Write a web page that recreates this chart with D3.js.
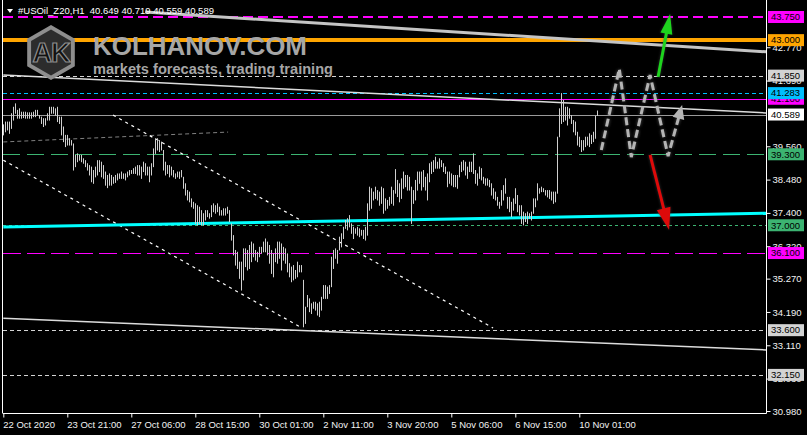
<!DOCTYPE html>
<html>
<head>
<meta charset="utf-8">
<script src="https://cdn.jsdelivr.net/npm/d3@7"></script>
<style>
  html, body { margin: 0; padding: 0; background: #000; }
  svg { display: block; }
  text { font-family: "Liberation Sans", Arial, sans-serif; }
</style>
</head>
<body>
<svg id="chart" width="807" height="435"></svg>
<script>
// ---- H1 bar ranges (high / low), one entry per hourly bar ----
const barHigh = [
  40.27, 40.36, 40.36, 40.36, 40.63, 40.84, 40.95, 40.74, 40.79, 40.68,
  40.68, 40.68, 40.66, 40.66, 40.66, 40.68, 40.74, 40.74, 40.57, 40.52,
  40.47, 40.47, 40.63, 40.84, 40.84, 40.84, 40.79, 40.84, 40.52, 40.52,
  40.20, 39.93, 39.93, 39.82, 39.76, 39.65, 39.28, 39.33, 39.28, 39.28,
  39.17, 39.11, 39.01, 38.95, 38.90, 38.79, 38.90, 39.11, 39.11, 39.06,
  38.95, 38.74, 38.63, 38.68, 38.63, 38.57, 38.63, 38.68, 38.68, 38.74,
  38.68, 38.68, 38.74, 38.79, 38.79, 38.85, 38.90, 38.95, 38.95, 38.90,
  39.06, 39.01, 38.90, 38.90, 39.01, 39.49, 39.82, 39.82, 39.76, 39.71,
  39.44, 39.06, 38.95, 38.95, 38.90, 38.79, 38.68, 38.74, 38.74, 38.79,
  38.57, 38.36, 38.14, 38.09, 37.87, 37.76,
  37.71, 37.65, 37.60, 37.49, 37.39, 37.49, 37.49, 37.39, 37.65, 37.71,
  37.65, 37.71, 37.60, 37.49, 37.55, 37.55, 37.60, 37.49, 37.06, 36.68,
  36.20, 36.14, 35.82, 35.82, 36.25, 36.25, 36.20, 36.36, 36.47, 36.41,
  36.20, 36.14, 36.30, 36.30, 36.47, 36.57, 36.47, 36.36, 36.20, 36.09,
  36.25, 36.47, 36.47, 36.41, 36.30, 36.25, 36.09, 35.77, 35.66, 35.71,
  35.55, 35.82, 35.71, 35.71, 35.23, 34.36, 34.74, 34.63, 34.47, 34.52,
  34.52, 34.47, 34.52, 34.68, 35.06, 35.06, 35.01, 35.06, 35.98, 36.20,
  36.25, 36.20, 36.63, 36.74, 36.95, 37.17, 37.23, 37.33, 37.06, 36.95,
  36.90, 36.95, 36.90, 36.85, 36.85, 36.95, 37.71, 38.25, 38.20, 38.09,
  38.25, 38.14, 38.09, 38.25, 38.20, 37.87, 37.82, 37.92, 38.25, 38.14,
  38.82, 38.47, 38.36, 38.52, 38.74, 38.63, 38.63, 38.57, 38.25, 38.14,
  38.47, 38.74, 38.74, 38.74, 38.79, 38.57, 38.68, 39.01, 39.06, 39.11,
  39.22, 39.06, 39.17, 39.11, 39.01, 38.90, 38.74, 38.74, 38.68, 38.63,
  38.63, 38.63, 38.95, 39.06, 39.11, 39.06, 38.90, 39.06, 39.06, 39.33,
  38.79, 38.68, 38.90, 38.85, 38.57, 38.52, 38.52, 38.47, 38.36, 38.20,
  38.09, 37.92, 37.76, 38.14, 38.30, 38.52, 37.92, 37.92, 37.76, 37.87,
  38.20, 37.98, 37.65, 37.65, 37.44, 37.39, 37.44, 37.39, 37.44, 37.87,
  37.87, 38.36, 38.20, 38.25, 38.20, 38.14, 38.14, 38.14, 38.09, 38.09,
  38.09, 39.87, 40.79, 41.283, 41.06, 40.84, 40.84, 40.79, 40.57, 40.41,
  40.36, 40.03, 39.87, 39.76, 39.76, 39.87, 39.87, 39.98, 39.93, 40.03,
  40.55, 40.719
];
const barLow = [
  39.93, 40.03, 40.09, 39.98, 40.14, 40.41, 40.63, 40.47, 40.47, 40.47,
  40.49, 40.47, 40.47, 40.47, 40.47, 40.52, 40.52, 40.57, 40.47, 40.30,
  40.20, 40.25, 40.41, 40.41, 40.63, 40.63, 40.57, 40.36, 40.30, 39.93,
  39.71, 39.55, 39.60, 39.60, 39.60, 38.79, 38.90, 39.06, 39.11, 39.06,
  39.01, 38.90, 38.79, 38.63, 38.41, 38.36, 38.57, 38.63, 38.74, 38.57,
  38.52, 38.30, 38.22, 38.30, 38.30, 38.36, 38.39, 38.47, 38.52, 38.52,
  38.52, 38.47, 38.57, 38.63, 38.68, 38.68, 38.68, 38.63, 38.63, 38.52,
  38.74, 38.63, 38.63, 38.41, 38.63, 38.90, 39.33, 39.44, 39.39, 39.44,
  38.79, 38.63, 38.68, 38.57, 38.63, 38.57, 38.52, 38.57, 38.52, 38.57,
  38.20, 37.98, 37.82, 37.76, 37.60, 37.55,
  37.06, 37.01, 37.06, 37.01, 37.01, 37.17, 37.28, 37.23, 37.28, 37.44,
  37.39, 37.44, 37.33, 37.33, 37.33, 37.33, 37.39, 37.12, 36.52, 36.04,
  35.71, 35.60, 35.28, 34.90, 35.23, 35.66, 35.55, 35.60, 35.82, 35.98,
  35.87, 35.82, 35.98, 36.09, 36.14, 36.14, 36.04, 35.77, 35.44, 35.33,
  35.82, 35.77, 35.93, 35.55, 35.87, 35.77, 35.49, 35.33, 35.17, 35.23,
  35.28, 35.33, 35.49, 35.49, 33.71, 33.82, 34.36, 34.20, 34.14, 34.31,
  34.25, 34.09, 34.04, 34.25, 34.63, 34.63, 34.63, 34.79, 35.01, 35.60,
  35.93, 35.77, 36.20, 36.30, 36.57, 36.90, 36.85, 36.95, 36.74, 36.57,
  36.74, 36.68, 36.63, 36.68, 36.57, 36.52, 36.68, 37.49, 37.55, 37.82,
  37.87, 37.82, 37.65, 37.71, 37.39, 37.49, 37.55, 37.65, 37.71, 37.65,
  38.04, 37.93, 37.76, 37.87, 38.20, 38.25, 38.14, 38.14, 37.06, 37.71,
  37.82, 38.14, 38.36, 38.14, 38.25, 38.14, 37.82, 38.41, 38.68, 38.74,
  38.85, 38.85, 38.85, 38.90, 38.74, 38.68, 38.25, 38.36, 38.30, 38.25,
  38.25, 38.20, 38.57, 38.74, 38.79, 38.63, 38.52, 38.74, 38.74, 38.68,
  38.36, 38.30, 38.52, 38.47, 38.36, 38.30, 38.30, 38.25, 37.98, 37.87,
  37.82, 37.65, 37.55, 37.65, 37.82, 38.04, 37.55, 37.44, 37.28, 37.49,
  37.71, 37.44, 37.33, 37.06, 37.01, 37.12, 37.06, 37.23, 37.17, 37.39,
  37.60, 37.82, 38.04, 38.09, 38.09, 37.98, 37.92, 37.87, 37.82, 37.71,
  37.76, 38.04, 39.87, 40.30, 40.36, 40.41, 40.25, 40.47, 40.30, 40.03,
  39.93, 39.60, 39.55, 39.39, 39.44, 39.55, 39.60, 39.55, 39.65, 39.71,
  39.82, 40.559
];

// last bar quote shown in the header
const symbolName = "#USOil_Z20,H1";
const lastQuote = [40.649, 40.719, 40.559, 40.589];

// time axis
const timeLabels = ["22 Oct 2020", "23 Oct 21:00", "27 Oct 06:00", "28 Oct 15:00", "30 Oct 01:00",
                    "2 Nov 11:00", "3 Nov 20:00", "5 Nov 06:00", "6 Nov 15:00", "10 Nov 01:00"];
const timeLabelBars = [0, 32, 64, 96, 128, 160, 192, 224, 256, 288];

// price axis
const priceTicks = [42.770, 41.690, 39.560, 38.480, 37.400, 36.320, 35.270, 34.190, 33.110, 32.030, 30.980];

// horizontal levels
const levelPrices = [43.750, 43.000, 41.850, 41.100, 41.283, 40.589, 39.300, 37.000, 36.100, 33.600, 32.150];

// trend lines: [bar index, price] end points
const trendTop      = [[70.9, 43.91], [381.35, 42.62]];
const trendMid      = [[0, 41.87], [381.35, 40.64]];
const trendLow      = [[0, 33.99], [381.35, 32.96]];
const trendCyan     = [[0, 36.94], [381.35, 37.39]];
const trendGrayDash = [[0, 39.70], [112.4, 40.02]];
const channelUpper  = [[54.9, 40.57], [244.9, 33.67]];
const channelLower  = [[0, 39.11], [149.4, 33.67]];

// projected path and scenario arrows
const forecastPath = [[299, 39.44], [308, 42.07], [314, 39.21], [323.4, 41.87], [332.4, 39.24], [339.4, 40.90]];
const arrowUp   = [[327.4, 41.81], [333.4, 43.85]];
const arrowDown = [[323.4, 39.28], [332.9, 36.85]];

// ---------------------------------------------------------------
const W = 807, H = 435;
const plotLeft = 3, plotRight = 766, plotBottom = 413;
const svg = d3.select("#chart");

svg.append("rect").attr("width", W).attr("height", H).attr("fill", "#000");

const x = d3.scaleLinear().domain([0, 381.35]).range([3.3, plotRight]);
const y = d3.scaleLinear().domain([30.98, 43.75]).range([411, 17]);

const defs = svg.append("defs");
defs.append("clipPath").attr("id", "plotClip")
  .append("rect").attr("x", plotLeft).attr("y", 0).attr("width", plotRight - plotLeft).attr("height", plotBottom);
const soft = defs.append("filter").attr("id", "soft").attr("x", "-50%").attr("y", "-50%").attr("width", "200%").attr("height", "200%");
soft.append("feGaussianBlur").attr("stdDeviation", 1.6);

const plot = svg.append("g").attr("clip-path", "url(#plotClip)");

// horizontal level lines
const levelStyles = [
  { color: "#ff00ff", width: 2,   dash: "10,5",  box: "#ff00ff" },
  { color: "#ffa500", width: 4,   dash: null,    box: "#ffa500" },
  { color: "#d3d3d3", width: 1,   dash: "4,3",   box: "#d3d3d3" },
  { color: "#ff00ff", width: 1,   dash: null,    box: "#ff00ff" },
  { color: "#00bfff", width: 1,   dash: "4,3",   box: "#00bfff" },
  { color: "#9a9a9a", width: 1,   dash: null,    box: "#ffffff" },
  { color: "#3cb371", width: 1,   dash: "17,7",  box: "#3cb371" },
  { color: "#3cb371", width: 1,   dash: "3,3",   box: "#3cb371" },
  { color: "#ff00ff", width: 1,   dash: "18,6",  box: "#ff00ff" },
  { color: "#d3d3d3", width: 1,   dash: "4,3",   box: "#d3d3d3" },
  { color: "#d3d3d3", width: 1,   dash: "4,3",   box: "#d3d3d3" }
];
const crispY = (p, w) => Math.round(y(p)) + (w % 2 ? 0.5 : 0);
plot.selectAll("line.level").data(levelPrices).join("line")
  .attr("class", "level")
  .attr("x1", plotLeft).attr("x2", plotRight)
  .attr("y1", (d, i) => crispY(d, levelStyles[i].width))
  .attr("y2", (d, i) => crispY(d, levelStyles[i].width))
  .attr("stroke", (d, i) => levelStyles[i].color)
  .attr("stroke-width", (d, i) => levelStyles[i].width)
  .attr("stroke-dasharray", (d, i) => levelStyles[i].dash);

// trend lines
function seg(pts, color, width, dash) {
  plot.append("line")
    .attr("x1", x(pts[0][0])).attr("y1", y(pts[0][1]))
    .attr("x2", x(pts[1][0])).attr("y2", y(pts[1][1]))
    .attr("stroke", color).attr("stroke-width", width)
    .attr("stroke-dasharray", dash);
}
seg(trendTop, "#c4c4c4", 3, null);
seg(trendMid, "#dcdcdc", 1.5, null);
seg(trendLow, "#dcdcdc", 1.5, null);
seg(trendGrayDash, "#808080", 1, "4,3");
seg(channelUpper, "#ffffff", 1.2, "3,4");
seg(channelLower, "#ffffff", 1.2, "3,4");
seg(trendCyan, "#00ffff", 3, null);

// price bars
plot.append("g").selectAll("line").data(barHigh).join("line")
  .attr("x1", (d, i) => Math.round(x(i)) + 0.5).attr("x2", (d, i) => Math.round(x(i)) + 0.5)
  .attr("y1", d => y(d)).attr("y2", (d, i) => y(barLow[i]) + 0.5)
  .attr("stroke", "#cfcfcf").attr("stroke-width", 1);

// arrows
function arrowHead(p0, p1, len, half) {
  const x0 = x(p0[0]), y0 = y(p0[1]), x1 = x(p1[0]), y1 = y(p1[1]);
  const dx = x1 - x0, dy = y1 - y0, L = Math.hypot(dx, dy);
  const ux = dx / L, uy = dy / L, px = -uy, py = ux;
  const bx = x1 - ux * len, by = y1 - uy * len;
  return {
    base: [bx + ux * 2, by + uy * 2],
    poly: [[x1, y1], [bx + px * half, by + py * half], [bx - px * half, by - py * half]]
  };
}
function drawArrow(p0, p1, color, width, len, half) {
  const h = arrowHead(p0, p1, len, half);
  const g = plot.append("g");
  [true, false].forEach(shadow => {
    const gg = g.append("g");
    if (shadow) gg.attr("filter", "url(#soft)").attr("opacity", 0.55);
    gg.append("line")
      .attr("x1", x(p0[0])).attr("y1", y(p0[1]))
      .attr("x2", h.base[0]).attr("y2", h.base[1])
      .attr("stroke", shadow ? "#555" : color).attr("stroke-width", width);
    gg.append("polygon").attr("points", h.poly.map(p => p.join(",")).join(" "))
      .attr("fill", shadow ? "#555" : color);
  });
}

// projected zigzag
(function () {
  const n = forecastPath.length;
  const h = arrowHead(forecastPath[n - 2], forecastPath[n - 1], 14, 6);
  const pts = forecastPath.slice(0, n - 1).map(p => [x(p[0]), y(p[1])]).concat([h.base]);
  const line = d3.line();
  plot.append("path").attr("d", line(pts)).attr("fill", "none")
    .attr("stroke", "#666").attr("stroke-width", 4).attr("stroke-dasharray", "8,4")
    .attr("filter", "url(#soft)").attr("opacity", 0.6);
  plot.append("path").attr("d", line(pts)).attr("fill", "none")
    .attr("stroke", "#b4b4b4").attr("stroke-width", 3).attr("stroke-dasharray", "8,4");
  plot.append("polygon").attr("points", h.poly.map(p => p.join(",")).join(" ")).attr("fill", "#b4b4b4");
})();
drawArrow(arrowUp[0], arrowUp[1], "#1ed41e", 3, 20, 6);
drawArrow(arrowDown[0], arrowDown[1], "#dd0a0a", 3, 22, 7);

// brand watermark
const logo = svg.append("g");
const hex = (cx, cy, r) => d3.range(6).map(k => {
  const a = Math.PI / 3 * k - Math.PI / 2;
  return [cx + r * Math.cos(a), cy + r * Math.sin(a)];
});
logo.append("polygon").attr("points", hex(51, 52.5, 27.5).map(p => p.join(",")).join(" "))
  .attr("fill", "#8e8e8e");
logo.append("polygon").attr("points", hex(51, 52.5, 23).map(p => p.join(",")).join(" "))
  .attr("fill", "#2c2c2c");
logo.append("text").attr("x", 51).attr("y", 62).attr("text-anchor", "middle")
  .attr("font-size", 27).attr("font-weight", "bold").attr("fill", "#111")
  .attr("stroke", "#8e8e8e").attr("stroke-width", 1.2)
  .attr("letter-spacing", -1).text("AK");
logo.append("text").attr("x", 93).attr("y", 55).attr("font-size", 25.5).attr("font-weight", "bold")
  .attr("fill", "#a6a6a6").attr("textLength", 214).attr("lengthAdjust", "spacingAndGlyphs").text("KOLHANOV.COM");
logo.append("text").attr("x", 93).attr("y", 74).attr("font-size", 14.5).attr("font-weight", "bold")
  .attr("fill", "#a6a6a6").attr("textLength", 240).attr("lengthAdjust", "spacingAndGlyphs").text("markets forecasts, trading training");

// frame
svg.append("line").attr("x1", 2.5).attr("x2", 2.5).attr("y1", 0).attr("y2", plotBottom).attr("stroke", "#fff");
svg.append("line").attr("x1", 2.5).attr("x2", plotRight + 0.5).attr("y1", plotBottom + 0.5).attr("y2", plotBottom + 0.5).attr("stroke", "#fff");
svg.append("line").attr("x1", plotRight + 0.5).attr("x2", plotRight + 0.5).attr("y1", 0).attr("y2", plotBottom + 0.5).attr("stroke", "#fff");

// price axis
const yAxis = d3.axisRight(y).tickValues(priceTicks).tickFormat(d3.format(".3f")).tickSize(4).tickPadding(2);
const gy = svg.append("g").attr("transform", `translate(${plotRight + 0.5},0)`).call(yAxis);
gy.select(".domain").remove();
gy.selectAll(".tick line").attr("stroke", "#fff");
gy.selectAll(".tick text").attr("fill", "#f2f2f2").attr("font-size", 9.5)
  .attr("font-family", "'Liberation Sans', Arial, sans-serif");

// time axis
const xAxis = d3.axisBottom(x).tickValues(timeLabelBars).tickFormat((d, i) => timeLabels[i]).tickSize(4).tickPadding(4);
const gx = svg.append("g").attr("transform", `translate(0,${plotBottom + 0.5})`).call(xAxis);
gx.select(".domain").remove();
gx.selectAll(".tick line").attr("stroke", "#fff");
gx.selectAll(".tick text").attr("fill", "#f2f2f2").attr("font-size", 9.5)
  .attr("text-anchor", "start").attr("dx", -0.6)
  .attr("font-family", "'Liberation Sans', Arial, sans-serif");

// level price boxes
const boxes = svg.append("g");
levelPrices.forEach((p, i) => {
  const cy = y(p);
  boxes.append("rect").attr("x", 768).attr("y", cy - 6).attr("width", 36).attr("height", 12)
    .attr("fill", levelStyles[i].box);
  boxes.append("text").attr("x", 771).attr("y", cy).attr("dy", "0.35em")
    .attr("font-size", 9.5).attr("fill", "#000").text(d3.format(".3f")(p));
});

// header
svg.append("polygon").attr("points", "7,9 13,9 10,13").attr("fill", "#fff");
svg.append("text").attr("x", 18).attr("y", 13.5).attr("font-size", 9.5).attr("fill", "#fff")
  .style("white-space", "pre")
  .text(symbolName + "  " + lastQuote.map(v => v.toFixed(3)).join(" "));
</script>
</body>
</html>
